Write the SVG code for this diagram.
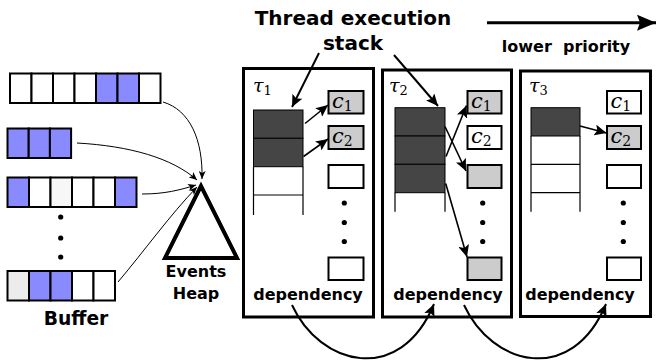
<svg xmlns="http://www.w3.org/2000/svg" width="657" height="360" viewBox="0 0 657 360">
  <style>
    .lbl { font-family: "DejaVu Sans", "Liberation Sans", sans-serif; font-weight: bold; fill: #000; }
    .math { font-family: "DejaVu Serif", "Liberation Serif", serif; font-style: italic; fill: #000; }
    .sub { font-style: normal; }
    .cell { stroke: #000; stroke-width: 2; }
    .blue { fill: #8a8aff; }
    .white { fill: #fff; }
    .panel { fill: #fff; stroke: #000; stroke-width: 3; }
    .slot { stroke: #000; stroke-width: 2; }
    .full { fill: #cccccc; }
    .empty { fill: #fff; }
    .dark { fill: #454545; stroke: #000; stroke-width: 1; }
    .rung { stroke: #000; stroke-width: 1.2; fill: none; }
    .thin { fill: none; stroke: #000; stroke-width: 1; marker-end: url(#ahSmall); }
    .mid { fill: none; stroke: #000; stroke-width: 1.6; marker-end: url(#ahMid); }
    .heavy { fill: none; stroke: #000; stroke-width: 2; marker-end: url(#ahMid); }
  </style>
  <defs>
    <marker id="ahSmall" markerUnits="userSpaceOnUse" markerWidth="9" markerHeight="7" refX="8" refY="3.5" orient="auto">
      <path d="M0,0 L8,3.5 L0,7 L2,3.5 z" fill="#000"/>
    </marker>
    <marker id="ahMid" markerUnits="userSpaceOnUse" markerWidth="13" markerHeight="11" refX="12" refY="5.5" orient="auto">
      <path d="M0,0 L12,5.5 L0,11 L2.5,5.5 z" fill="#000"/>
    </marker>
    <marker id="ahBig" markerUnits="userSpaceOnUse" markerWidth="20" markerHeight="16" refX="19" refY="8" orient="auto">
      <path d="M0,0 L19,8 L0,16 L3,8 z" fill="#000"/>
    </marker>
  </defs>

  <!-- Event buffers -->
  <g id="buffer1">
    <rect class="cell white" x="10" y="73.5" width="21.5" height="29.5"/>
    <rect class="cell white" x="31.5" y="73.5" width="21.5" height="29.5"/>
    <rect class="cell white" x="53" y="73.5" width="21.5" height="29.5"/>
    <rect class="cell white" x="74.5" y="73.5" width="21.5" height="29.5"/>
    <rect class="cell blue" x="96" y="73.5" width="21.5" height="29.5"/>
    <rect class="cell blue" x="117.5" y="73.5" width="21.5" height="29.5"/>
    <rect class="cell white" x="139" y="73.5" width="21.5" height="29.5"/>
  </g>
  <g id="buffer2">
    <rect class="cell blue" x="7.5" y="128.5" width="21.2" height="29.5"/>
    <rect class="cell blue" x="28.7" y="128.5" width="21.2" height="29.5"/>
    <rect class="cell blue" x="49.9" y="128.5" width="21.2" height="29.5"/>
  </g>
  <g id="buffer3">
    <rect class="cell blue" x="7.5" y="177.5" width="21.5" height="29.5"/>
    <rect class="cell white" x="29" y="177.5" width="21.5" height="29.5"/>
    <rect class="cell" fill="#f7f7f7" x="50.5" y="177.5" width="21.5" height="29.5"/>
    <rect class="cell white" x="72" y="177.5" width="21.5" height="29.5"/>
    <rect class="cell white" x="93.5" y="177.5" width="21.5" height="29.5"/>
    <rect class="cell blue" x="115" y="177.5" width="21.5" height="29.5"/>
  </g>
  <g id="buffer-dots" fill="#000">
    <circle cx="60.7" cy="217" r="2.6"/>
    <circle cx="60.7" cy="238" r="2.6"/>
    <circle cx="60.7" cy="257" r="2.6"/>
  </g>
  <g id="buffer4">
    <rect class="cell" fill="#ececec" x="7.5" y="271" width="21.5" height="29.5"/>
    <rect class="cell blue" x="29" y="271" width="21.5" height="29.5"/>
    <rect class="cell blue" x="50.5" y="271" width="21.5" height="29.5"/>
    <rect class="cell white" x="72" y="271" width="21.5" height="29.5"/>
    <rect class="cell white" x="93.5" y="271" width="21.5" height="29.5"/>
  </g>
  <text class="lbl" x="76" y="325" font-size="18.7" text-anchor="middle">Buffer</text>

  <!-- Events heap -->
  <g id="heap">
    <polygon points="201,186 165,258 237,258" fill="#fff" stroke="#000" stroke-width="4" stroke-linejoin="miter"/>
    <text class="lbl" x="196" y="277" font-size="16" text-anchor="middle">Events</text>
    <text class="lbl" x="196" y="299" font-size="16" text-anchor="middle">Heap</text>
  </g>

  <!-- Titles -->
  <g id="title">
    <text class="lbl" x="353" y="25" font-size="20" text-anchor="middle">Thread execution</text>
    <text class="lbl" x="353" y="50" font-size="20" text-anchor="middle">stack</text>
  </g>
  <g id="priority">
    <text class="lbl" x="566" y="52" font-size="16" text-anchor="middle" style="white-space:pre">lower  priority</text>
  </g>

  <!-- Thread 1 -->
  <g id="thread1">
    <rect class="panel" x="243.5" y="68.5" width="130" height="248.5"/>
    <text class="math" x="253" y="92" font-size="19">τ<tspan class="sub" font-size="13" dy="2.5">1</tspan></text>
    <rect class="dark" x="253.5" y="110" width="49.5" height="28.3"/>
    <rect class="dark" x="253.5" y="138.3" width="49.5" height="28.4"/>
    <path class="rung" d="M253.5,166.7 V215 M303,166.7 V215 M253.5,195 H303"/>
    <rect class="slot full" x="328.5" y="91" width="35" height="22.5"/>
    <text class="math" x="332" y="108" font-size="21">c<tspan class="sub" font-size="14" dy="2.5">1</tspan></text>
    <rect class="slot full" x="328.5" y="126" width="35" height="23"/>
    <text class="math" x="332" y="143" font-size="21">c<tspan class="sub" font-size="14" dy="2.5">2</tspan></text>
    <rect class="slot empty" x="328.5" y="165" width="35" height="23"/>
    <circle cx="344.3" cy="203" r="2.6"/>
    <circle cx="344.3" cy="222.5" r="2.6"/>
    <circle cx="344.3" cy="241.5" r="2.6"/>
    <rect class="slot empty" x="328.5" y="257.5" width="35" height="22.5"/>
    <text class="lbl" x="308" y="300" font-size="16" text-anchor="middle">dependency</text>
  </g>

  <!-- Thread 2 -->
  <g id="thread2">
    <rect class="panel" x="382.5" y="70" width="129" height="247"/>
    <text class="math" x="389" y="92" font-size="19">τ<tspan class="sub" font-size="13" dy="2.5">2</tspan></text>
    <rect class="dark" x="395" y="107.7" width="50" height="28.3"/>
    <rect class="dark" x="395" y="136" width="50" height="28.3"/>
    <rect class="dark" x="395" y="164.3" width="50" height="28.4"/>
    <path class="rung" d="M395,192.7 V211.7 M445,192.7 V211.7"/>
    <rect class="slot full" x="467.5" y="91" width="34" height="22.5"/>
    <text class="math" x="471" y="108" font-size="21">c<tspan class="sub" font-size="14" dy="2.5">1</tspan></text>
    <rect class="slot empty" x="467.5" y="126" width="34" height="23"/>
    <text class="math" x="471" y="143" font-size="21">c<tspan class="sub" font-size="14" dy="2.5">2</tspan></text>
    <rect class="slot full" x="467.5" y="165" width="34" height="23"/>
    <circle cx="482.7" cy="203" r="2.6"/>
    <circle cx="482.7" cy="222.5" r="2.6"/>
    <circle cx="482.7" cy="241.5" r="2.6"/>
    <rect class="slot full" x="467.5" y="257.5" width="34" height="22.5"/>
    <text class="lbl" x="448" y="300" font-size="16" text-anchor="middle">dependency</text>
  </g>

  <!-- Thread 3 -->
  <g id="thread3">
    <rect class="panel" x="520.5" y="71" width="130" height="245.5"/>
    <text class="math" x="529" y="92" font-size="19">τ<tspan class="sub" font-size="13" dy="2.5">3</tspan></text>
    <rect class="dark" x="531" y="107.7" width="49" height="28.3"/>
    <path class="rung" d="M531,136 V211.7 M580,136 V211.7 M531,164.3 H580 M531,192.7 H580"/>
    <rect class="slot empty" x="607" y="91" width="34" height="22.5"/>
    <text class="math" x="610.5" y="108" font-size="21">c<tspan class="sub" font-size="14" dy="2.5">1</tspan></text>
    <rect class="slot full" x="607" y="126" width="34" height="23"/>
    <text class="math" x="610.5" y="143" font-size="21">c<tspan class="sub" font-size="14" dy="2.5">2</tspan></text>
    <rect class="slot empty" x="607" y="165" width="34" height="23"/>
    <circle cx="623.3" cy="203" r="2.6"/>
    <circle cx="623.3" cy="222.5" r="2.6"/>
    <circle cx="623.3" cy="241.5" r="2.6"/>
    <rect class="slot empty" x="607" y="257.5" width="34" height="22.5"/>
    <text class="lbl" x="580" y="300" font-size="16" text-anchor="middle">dependency</text>
  </g>

  <!-- Connectors -->
  <g id="connectors">
    <!-- buffers into the events heap -->
    <path class="thin" d="M163,102 C190,110 203,140 202,179"/>
    <path class="thin" d="M77,143 C130,146 172,158 197,180"/>
    <path class="thin" d="M142,194 C165,194 180,190 196,185"/>
    <path class="thin" d="M118,282 C145,250 170,215 197,187"/>

    <!-- priority direction -->
    <line x1="487" y1="22.7" x2="656" y2="22.7" stroke="#000" stroke-width="3" marker-end="url(#ahBig)"/>

    <!-- title to stacks -->
    <path class="heavy" d="M319,53 L292,107"/>
    <path class="heavy" d="M394,55 L438,106"/>

    <!-- stack frames to their slots -->
    <path class="mid" d="M305,123.5 L328,105"/>
    <path class="mid" d="M303.5,156.5 L328,139"/>
    <path class="mid" d="M446,156.5 L466.5,105.5"/>
    <path class="mid" d="M445,126.5 L466,171"/>
    <path class="mid" d="M445.7,183.5 L467,257"/>
    <path class="mid" d="M580,126 L606.5,133"/>

    <!-- dependency chain -->
    <path class="heavy" d="M292,305 C320,366 400,386 434,304"/>
    <path class="heavy" d="M464,305 C492,366 572,386 606,304"/>
  </g>
</svg>
